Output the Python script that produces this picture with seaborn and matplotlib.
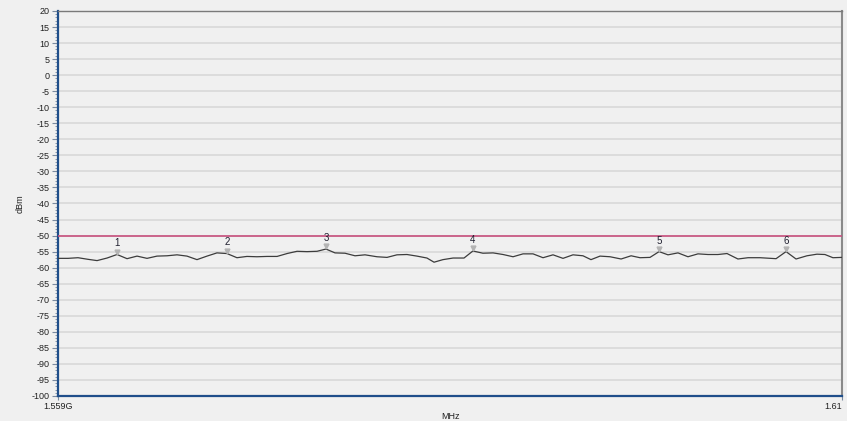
import pandas as pd
import matplotlib
matplotlib.use("Agg")
import matplotlib.pyplot as plt
import seaborn as sns
from matplotlib.ticker import MultipleLocator, FixedLocator

# sweep values
freq_mhz = [1559.00, 1559.65, 1560.30, 1560.95, 1561.54, 1562.19, 1562.84, 1563.49,
            1564.14, 1564.79, 1565.44, 1566.09, 1566.74, 1567.39, 1568.04, 1568.69,
            1569.34, 1569.99, 1570.64, 1571.29, 1571.94, 1572.60, 1573.25, 1573.90,
            1574.55, 1575.20, 1575.85, 1576.43, 1577.02, 1577.67, 1578.32, 1578.97,
            1579.75, 1580.40, 1581.05, 1581.70, 1582.35, 1583.00, 1583.46, 1584.04,
            1584.70, 1585.41, 1585.99, 1586.64, 1587.30, 1587.95, 1588.60, 1589.25,
            1589.90, 1590.55, 1591.20, 1591.85, 1592.50, 1593.15, 1593.67, 1594.26,
            1594.91, 1595.63, 1596.28, 1596.86, 1597.51, 1598.10, 1598.68, 1599.33,
            1599.98, 1600.63, 1601.28, 1601.93, 1602.52, 1603.23, 1603.89, 1604.67,
            1605.71, 1606.36, 1607.01, 1607.72, 1608.37, 1608.89, 1609.41, 1610.00]
level_dbm = [-57.1, -57.1, -56.9, -57.4, -57.8, -57.0, -55.9, -57.2,
             -56.4, -57.1, -56.4, -56.3, -56.0, -56.4, -57.5, -56.4,
             -55.4, -55.6, -56.9, -56.5, -56.6, -56.5, -56.5, -55.6,
             -54.9, -55.0, -54.9, -54.2, -55.4, -55.5, -56.3, -56.0,
             -56.6, -56.8, -56.0, -55.9, -56.4, -57.0, -58.3, -57.5,
             -57.0, -57.0, -54.8, -55.5, -55.4, -55.9, -56.6, -55.7,
             -55.7, -56.9, -56.0, -57.1, -56.0, -56.3, -57.5, -56.4,
             -56.6, -57.3, -56.3, -56.9, -56.8, -55.0, -56.0, -55.4,
             -56.6, -55.7, -55.9, -55.9, -55.6, -57.3, -56.9, -56.9,
             -57.2, -55.0, -57.3, -56.3, -55.8, -55.9, -56.9, -56.8]

marker_idx = [6, 17, 27, 42, 61, 73]
marker_labels = ["1", "2", "3", "4", "5", "6"]
limit_dbm = -50

x_min, x_max = 1559.0, 1610.0
x_tick_labels = ["1.559G", "1.61"]

df = pd.DataFrame({"MHz": freq_mhz, "dBm": level_dbm})

sns.set_theme(style="white")
plt.rcParams["font.family"] = ["Liberation Sans", "DejaVu Sans"]
plt.rcParams["axes.unicode_minus"] = False

bg = "#f0f0f0"
fig = plt.figure(figsize=(8.47, 4.21), dpi=100, facecolor=bg)
ax = fig.add_axes([0.0685, 0.0594, 0.9256, 0.9145])
ax.set_facecolor(bg)

ax.axhline(limit_dbm, color="#c8507e", lw=1.2, zorder=3)
sns.lineplot(data=df, x="MHz", y="dBm", ax=ax, color="#3c3c3c", lw=0.9, zorder=4)

for i, lab in zip(marker_idx, marker_labels):
    ax.plot(freq_mhz[i], level_dbm[i] + 0.8, marker="v", ms=3.5, color="#b4b4b4",
            mec="#b4b4b4", zorder=5)
    ax.text(freq_mhz[i], level_dbm[i] + 1.9, lab, ha="center", va="bottom",
            fontsize=7, color="#202030", zorder=6)

ax.set_xlim(x_min, x_max)
ax.set_ylim(-100, 20)
ax.yaxis.set_major_locator(MultipleLocator(5))
ax.yaxis.set_minor_locator(MultipleLocator(1))
ax.xaxis.set_major_locator(FixedLocator([x_min, x_max]))
ax.set_xticklabels(x_tick_labels)
ax.get_xticklabels()[-1].set_horizontalalignment("right")
ax.grid(axis="y", which="major", color="#d6d6d6", lw=1.1)
ax.grid(axis="x", visible=False)
ax.set_axisbelow(True)

ax.tick_params(axis="y", which="major", left=True, length=4, width=0.8,
               color="#7a8aa0", labelsize=6.5, pad=2, labelcolor="#222222")
ax.tick_params(axis="y", which="minor", left=True, length=2, width=0.6, color="#7a8aa0")
ax.tick_params(axis="x", which="major", bottom=True, length=3, width=0.8,
               color="#7a8aa0", labelsize=6.5, pad=1, labelcolor="#222222")

for side in ["left", "bottom"]:
    ax.spines[side].set_color("#1f4e8a")
    ax.spines[side].set_linewidth(1.6)
ax.spines["top"].set_color("#7a7a7a")
ax.spines["top"].set_linewidth(1.0)
ax.spines["right"].set_color("#8a8a8a")
ax.spines["right"].set_linewidth(1.5)

ax.set_xlabel("MHz", fontsize=6.5, labelpad=1, color="#222222")
ax.set_ylabel("dBm", fontsize=6.5, labelpad=5, color="#222222")

fig.savefig("out.png", dpi=100, facecolor=bg)
